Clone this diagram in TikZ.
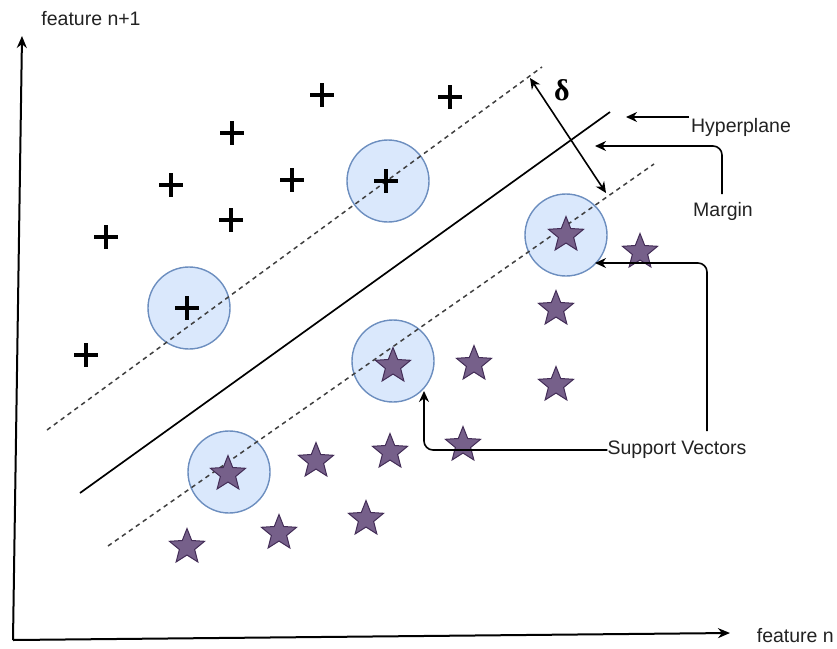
\documentclass[tikz,border=0pt]{standalone}
\usepackage{fontspec}
\setmainfont{Liberation Sans}
\newfontfamily\deltafont{Liberation Serif}
\usetikzlibrary{shapes.geometric,arrows.meta}

\definecolor{svfill}{HTML}{DAE8FC}
\definecolor{svline}{HTML}{6C8EBF}
\definecolor{starfill}{HTML}{76608A}
\definecolor{starline}{HTML}{432D57}
\definecolor{labelgray}{HTML}{222222}

\tikzset{
  arr/.style={-{Stealth[length=11pt,width=10pt]}, line width=1.6pt},
  axis/.style={-{Stealth[length=12pt,width=10pt]}, line width=2pt},
  margin line/.style={dash pattern=on 4.5pt off 4pt, line width=1.5pt, black!75},
  svcircle/.style={circle, draw=svline, line width=1.4pt, fill=svfill, minimum size=82pt, inner sep=0pt},
  starmark/.style={star, star points=5, star point ratio=2.3, draw=starline, line width=1pt,
    fill=starfill, minimum size=37pt, inner sep=0pt},
  plusmark/.style={minimum size=24pt, inner sep=0pt,
    path picture={\draw[line width=3.2pt]
      (path picture bounding box.north) -- (path picture bounding box.south)
      (path picture bounding box.west) -- (path picture bounding box.east);}},
  lbl/.style={font=\fontsize{19.5}{22}\selectfont, text=labelgray, inner sep=0pt},
}

\begin{document}
\begin{tikzpicture}[x=1pt,y=-1pt]
\useasboundingbox (0,0) rectangle (837,648);

% axes
\coordinate (origin) at (13,640);
\coordinate (ytop) at (22,36);
\coordinate (xend) at (730,633);
\draw[axis] (origin) -- (ytop);
\draw[axis] (origin) -- (xend);
\node[lbl] (ylabel) at (91,19) {feature n+1};
\node[lbl, anchor=east] (xlabel) at (834,636) {feature n};

% support vector circles
\node[svcircle] (c1) at (388,181) {};
\node[svcircle] (c2) at (189,308) {};
\node[svcircle] (c3) at (566,235) {};
\node[svcircle] (c4) at (393,361) {};
\node[svcircle] (c5) at (229,472) {};

% hyperplane and margins
\coordinate (m1a) at (47,430);
\coordinate (m1b) at (542,67);
\coordinate (h1) at (80,493);
\coordinate (h2) at (610,112);
\coordinate (m2a) at (108,546);
\coordinate (m2b) at (654,164);
\draw[margin line] (m1a) -- (m1b);
\draw[line width=1.7pt] (h1) -- (h2);
\draw[margin line] (m2a) -- (m2b);

% class +
\foreach \n/\x/\y in {1/322/95, 2/450/97, 3/232/133, 4/171/185, 5/292/180,
                      6/231/220, 7/106/237, 8/86/355, 9/386/181, 10/187/308}
  \node[plusmark] (p\n) at (\x,\y) {};

% class star
\foreach \n/\x/\y in {1/566/235, 2/640/252, 3/556/309, 4/474/364, 5/556/385,
                      6/393/366, 7/463/445, 8/390/452, 9/316/461, 10/228/474,
                      11/366/519, 12/279/533, 13/187/547}
  \node[starmark] (s\n) at (\x,\y) {};

% margin width
\coordinate (d1) at (530,78);
\coordinate (d2) at (606,193);
\draw[{Stealth[length=11pt,width=10pt]}-{Stealth[length=11pt,width=10pt]}, line width=1.6pt] (d1) -- (d2);
\node[font=\deltafont\bfseries\fontsize{30}{30}\selectfont, inner sep=0pt] (delta) at (562,90) {δ};

% annotations
\node[lbl] (hyp) at (741,127) {Hyperplane};
\coordinate (hypfrom) at (689,117);
\coordinate (hypto) at (626,117);
\draw[arr] (hypfrom) -- (hypto);

\node[lbl] (mar) at (723,211) {Margin};
\coordinate (marfrom) at (722,194);
\coordinate (marto) at (595,146);
\draw[arr, rounded corners=9pt] (marfrom) |- (marto);

\node[lbl] (sv) at (677,450) {Support Vectors};
\coordinate (svto1) at (424,391);
\draw[arr, rounded corners=9pt] (sv.west) -| (svto1);
\coordinate (svfrom2) at (707,431);
\coordinate (svto2) at (595,263);
\draw[arr, rounded corners=9pt] (svfrom2) |- (svto2);
\end{tikzpicture}
\end{document}
